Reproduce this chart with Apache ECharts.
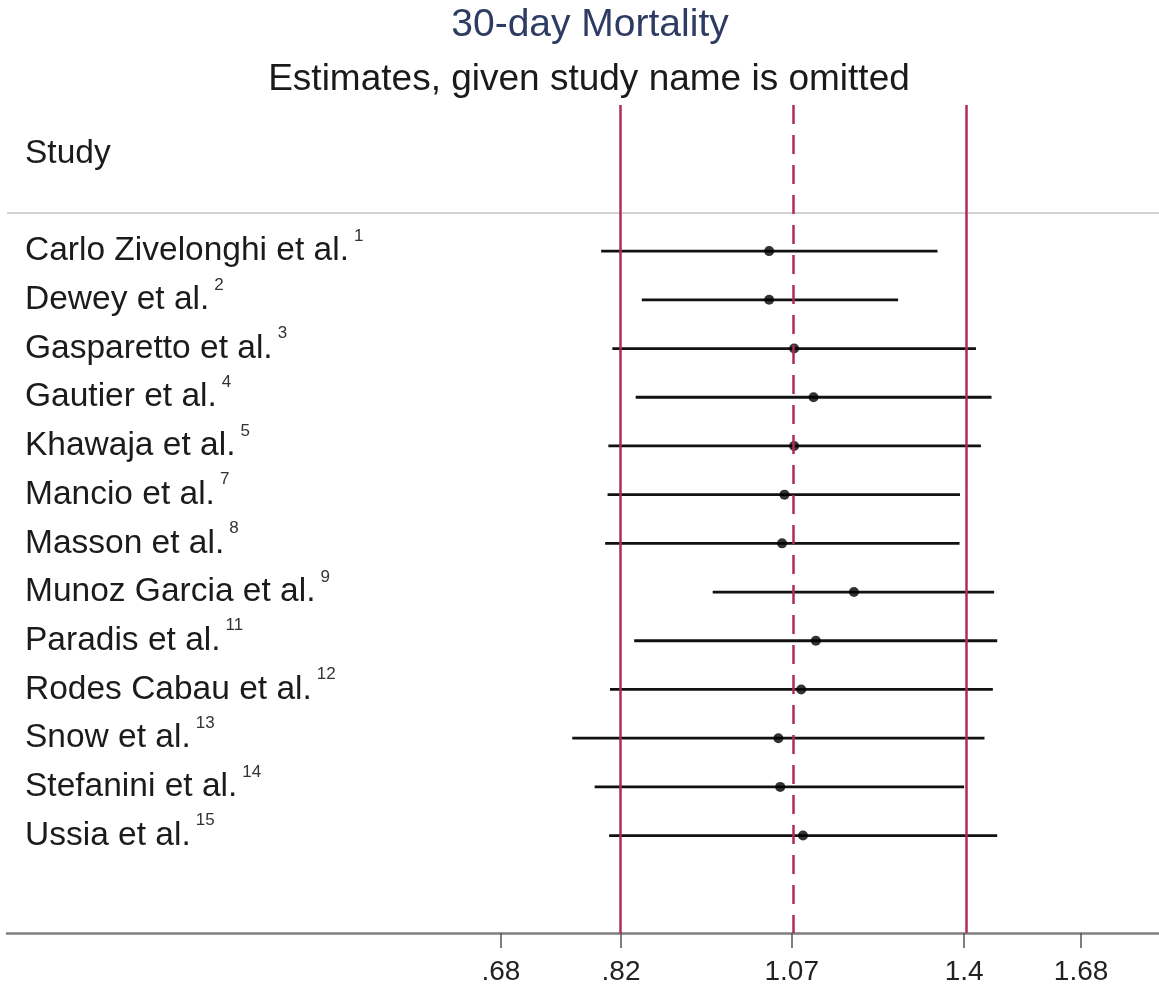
<!DOCTYPE html>
<html>
<head>
<meta charset="utf-8">
<script src="https://cdn.jsdelivr.net/npm/echarts@6/dist/echarts.min.js"></script>
<style>
  html, body { margin: 0; padding: 0; background: #fff; }
  #chart { width: 1159px; height: 990px; }
</style>
</head>
<body>
<div id="chart"></div>
<script>
// Leave-one-out estimates (odds ratios) with 95% CI, one row per omitted study
const studies = [
  'Carlo Zivelonghi et al.', 'Dewey et al.', 'Gasparetto et al.', 'Gautier et al.',
  'Khawaja et al.', 'Mancio et al.', 'Masson et al.', 'Munoz Garcia et al.',
  'Paradis et al.', 'Rodes Cabau et al.', 'Snow et al.', 'Stefanini et al.', 'Ussia et al.'
];
const refs = ['1', '2', '3', '4', '5', '7', '8', '9', '11', '12', '13', '14', '15'];
const estimate = [1.033, 1.033, 1.074, 1.107, 1.074, 1.058, 1.054, 1.179, 1.111, 1.086, 1.048, 1.051, 1.089];
const lower    = [0.795, 0.847, 0.809, 0.839, 0.804, 0.803, 0.800, 0.946, 0.837, 0.806, 0.760, 0.787, 0.805];
const upper    = [1.343, 1.263, 1.426, 1.461, 1.437, 1.391, 1.390, 1.467, 1.474, 1.464, 1.445, 1.400, 1.474];

// Pooled estimate and its confidence bounds
const pooled = { lower: 0.82, est: 1.07, upper: 1.40 };

// Axis tick values and their printed labels
const tickValues = [0.68, 0.82, 1.07, 1.40, 1.68];
const tickLabels = ['.68', '.82', '1.07', '1.4', '1.68'];

const FONT = '"Liberation Sans", Arial, Helvetica, sans-serif';
const RED = '#b22a5b';
const ln = Math.log;

const chart = echarts.init(document.getElementById('chart'), null, { renderer: 'canvas' });

const ciData = studies.map((_, i) => [i, ln(lower[i]), ln(upper[i])]);
const pointData = studies.map((_, i) => [ln(estimate[i]), i]);

function labelFor(v) {
  let best = 0, d = Infinity;
  tickValues.forEach((t, k) => { const dd = Math.abs(ln(t) - v); if (dd < d) { d = dd; best = k; } });
  return tickLabels[best];
}

const option = {
  animation: false,
  backgroundColor: '#ffffff',
  graphic: [
    { type: 'text', x: 590, y: 25,
      style: { text: '30-day Mortality', fill: '#2e3b63', font: '39px ' + FONT,
               textAlign: 'center', textVerticalAlign: 'middle', align: 'center', verticalAlign: 'middle' } },
    { type: 'text', x: 589, y: 80,
      style: { text: 'Estimates, given study name is omitted', fill: '#1a1a1a', font: '37px ' + FONT,
               textAlign: 'center', textVerticalAlign: 'middle', align: 'center', verticalAlign: 'middle' } }
  ],
  grid: { left: 7, right: 0, top: 105, bottom: 57, containLabel: false },
  xAxis: {
    type: 'value',
    min: -1.1556,
    max: 0.6402,
    axisLine: { show: true, onZero: false, lineStyle: { color: '#7f7f7f', width: 2.5 } },
    axisTick: { show: true, length: 15, customValues: tickValues.map(ln),
                lineStyle: { color: '#555', width: 1.5 } },
    axisLabel: { show: true, customValues: tickValues.map(ln), margin: 25,
                 fontFamily: FONT, fontSize: 28, color: '#222',
                 formatter: v => labelFor(v) },
    splitLine: { show: false }
  },
  yAxis: {
    type: 'value',
    min: -3,
    max: 14,
    inverse: true,
    axisLine: { show: false, onZero: false },
    axisTick: { show: false },
    splitLine: { show: false },
    axisLabel: {
      show: true,
      inside: true,
      margin: 18,
      customValues: [-2].concat(studies.map((_, i) => i)),
      formatter: v => v < 0 ? '{n|Study}' : '{n|' + studies[v] + '}{s|' + refs[v] + '}',
      rich: {
        n: { fontFamily: FONT, fontSize: 33.5, color: '#1b1b1b' },
        s: { fontFamily: FONT, fontSize: 17, color: '#333', padding: [0, 0, 30, 5] }
      }
    }
  },
  series: [
    {
      // pooled bounds and estimate, plus the header separator
      type: 'line',
      data: [],
      z: 1,
      markLine: {
        silent: true,
        symbol: 'none',
        label: { show: false },
        data: [
          { yAxis: -0.78, lineStyle: { color: '#c4c4c4', width: 1.5, type: 'solid' } },
          { xAxis: ln(pooled.lower), lineStyle: { color: RED, width: 2.5, type: 'solid' } },
          { xAxis: ln(pooled.upper), lineStyle: { color: RED, width: 2.5, type: 'solid' } },
          { xAxis: ln(pooled.est), lineStyle: { color: RED, width: 2.5, type: [19, 11] } }
        ]
      }
    },
    {
      // confidence intervals
      type: 'custom',
      z: 3,
      data: ciData,
      encode: { x: [1, 2], y: 0 },
      renderItem: function (params, api) {
        const i = api.value(0);
        const p1 = api.coord([api.value(1), i]);
        const p2 = api.coord([api.value(2), i]);
        return {
          type: 'line',
          shape: { x1: p1[0], y1: p1[1], x2: p2[0], y2: p2[1] },
          style: { stroke: '#111', lineWidth: 2.8 }
        };
      }
    },
    {
      // point estimates
      type: 'scatter',
      z: 4,
      data: pointData,
      symbol: 'circle',
      symbolSize: 10,
      itemStyle: { color: '#000' }
    }
  ]
};

chart.setOption(option);
</script>
</body>
</html>
